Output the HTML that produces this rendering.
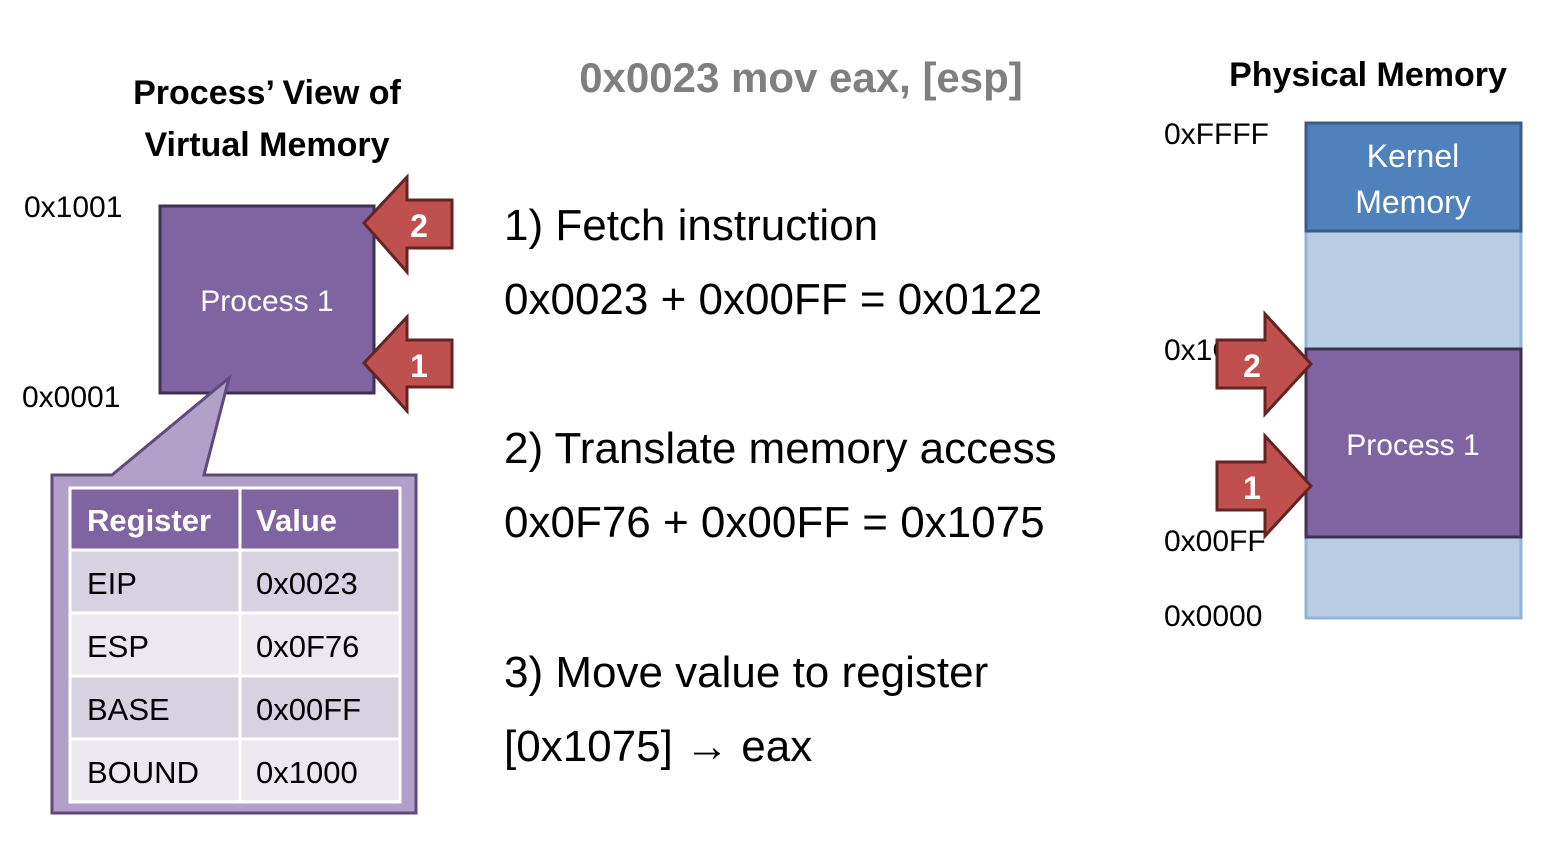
<!DOCTYPE html>
<html><head><meta charset="utf-8"><style>
body{margin:0;background:#fff;}
svg text{font-family:"Liberation Sans",sans-serif;}
</style></head><body>
<svg width="1546" height="850" viewBox="0 0 1546 850" xmlns="http://www.w3.org/2000/svg">
<rect width="1546" height="850" fill="#fff"/>
<!-- titles -->
<text x="267" y="104" font-size="34" font-weight="bold" text-anchor="middle">Process’ View of</text>
<text x="267" y="156" font-size="34" font-weight="bold" text-anchor="middle">Virtual Memory</text>
<text x="1368" y="86" font-size="34" font-weight="bold" text-anchor="middle">Physical Memory</text>
<text x="801" y="92" font-size="42" font-weight="bold" fill="#7f7f7f" text-anchor="middle">0x0023 mov eax, [esp]</text>
<!-- left labels -->
<text x="24" y="217" font-size="30">0x1001</text>
<text x="22" y="407" font-size="30">0x0001</text>
<!-- left process -->
<rect x="160" y="206" width="214" height="187" fill="#8064a2" stroke="#3f3151" stroke-width="3"/>
<text x="267" y="311" font-size="30" fill="#fff" text-anchor="middle">Process 1</text>
<!-- left arrows -->
<polygon points="364,223 407,177 407,200 452,200 452,248 407,248 407,272" fill="#c0504d" stroke="#632523" stroke-width="3"/>
<text x="419" y="237" font-size="32" font-weight="bold" fill="#fff" text-anchor="middle">2</text>
<polygon points="364,363 407,317 407,340 452,340 452,387 407,387 407,411" fill="#c0504d" stroke="#632523" stroke-width="3"/>
<text x="419" y="377" font-size="32" font-weight="bold" fill="#fff" text-anchor="middle">1</text>
<!-- callout -->
<polygon points="52,475 112,475 229,378 204,475 416,475 416,813 52,813" fill="#b1a0c7" stroke="#604a7b" stroke-width="3"/>
<rect x="70" y="488" width="330" height="62" fill="#8064a2"/>
<rect x="70" y="550" width="330" height="63" fill="#d7d2e1"/>
<rect x="70" y="613" width="330" height="63" fill="#ebe8f0"/>
<rect x="70" y="676" width="330" height="63" fill="#d7d2e1"/>
<rect x="70" y="739" width="330" height="63" fill="#ebe8f0"/>
<g stroke="#fff" stroke-width="3" fill="none">
<rect x="70" y="488" width="330" height="314"/>
<line x1="240" y1="488" x2="240" y2="802"/>
<line x1="70" y1="550" x2="400" y2="550"/>
<line x1="70" y1="613" x2="400" y2="613"/>
<line x1="70" y1="676" x2="400" y2="676"/>
<line x1="70" y1="739" x2="400" y2="739"/>
</g>
<g font-size="31">
<text x="87" y="531" font-weight="bold" fill="#fff">Register</text>
<text x="256" y="531" font-weight="bold" fill="#fff">Value</text>
<text x="87" y="594">EIP</text><text x="256" y="594">0x0023</text>
<text x="87" y="657">ESP</text><text x="256" y="657">0x0F76</text>
<text x="87" y="720">BASE</text><text x="256" y="720">0x00FF</text>
<text x="87" y="783">BOUND</text><text x="256" y="783">0x1000</text>
</g>
<!-- steps -->
<g font-size="44">
<text x="504" y="240">1) Fetch instruction</text>
<text x="504" y="314">0x0023 + 0x00FF = 0x0122</text>
<text x="504" y="463">2) Translate memory access</text>
<text x="504" y="537">0x0F76 + 0x00FF = 0x1075</text>
<text x="504" y="687">3) Move value to register</text>
<text x="504" y="761">[0x1075] → eax</text>
</g>
<!-- right memory -->
<rect x="1306" y="123" width="215" height="495" fill="#b9cde5" stroke="#95b3d7" stroke-width="3"/>
<rect x="1306" y="123" width="215" height="108" fill="#4f81bd" stroke="#385d8a" stroke-width="3"/>
<text x="1413" y="167" font-size="32" fill="#fff" text-anchor="middle">Kernel</text>
<text x="1413" y="213" font-size="32" fill="#fff" text-anchor="middle">Memory</text>
<rect x="1306" y="349" width="215" height="188" fill="#8064a2" stroke="#3f3151" stroke-width="3"/>
<text x="1413" y="455" font-size="30" fill="#fff" text-anchor="middle">Process 1</text>
<g font-size="30">
<text x="1164" y="144">0xFFFF</text>
<text x="1164" y="360">0x1OFF</text>
<text x="1164" y="551">0x00FF</text>
<text x="1164" y="626">0x0000</text>
</g>
<polygon points="1311,364 1265,314 1265,340 1217,340 1217,388 1265,388 1265,414" fill="#c0504d" stroke="#632523" stroke-width="3"/>
<text x="1252" y="377" font-size="32" font-weight="bold" fill="#fff" text-anchor="middle">2</text>
<polygon points="1311,486 1265,436 1265,462 1217,462 1217,510 1265,510 1265,536" fill="#c0504d" stroke="#632523" stroke-width="3"/>
<text x="1252" y="499" font-size="32" font-weight="bold" fill="#fff" text-anchor="middle">1</text>
</svg>
</body></html>
